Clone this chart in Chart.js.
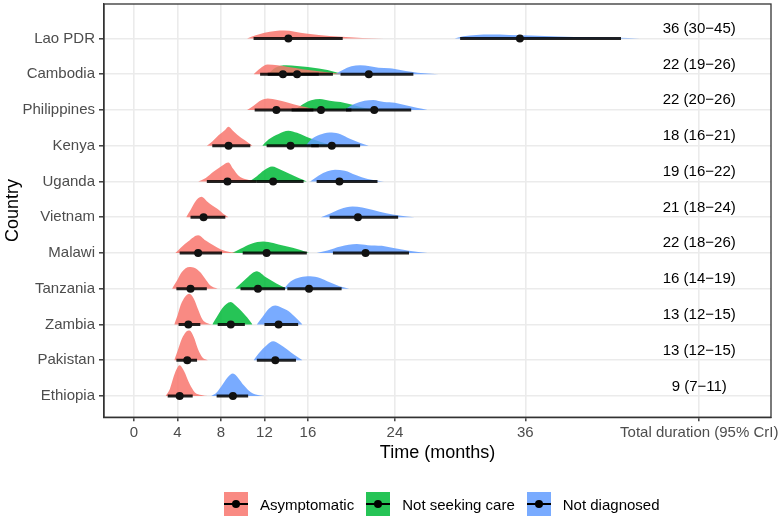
<!DOCTYPE html>
<html>
<head>
<meta charset="utf-8">
<script src="https://cdn.jsdelivr.net/npm/chart.js@4.4.1/dist/chart.umd.min.js"></script>
<style>
  html, body { margin: 0; padding: 0; background: #fff; }
  #wrap { position: relative; width: 778px; height: 517px; font-family: "Liberation Sans", Arial, sans-serif; }
  #legend { position: absolute; left: 224px; top: 492px; display: flex; align-items: center; }
  .item { display: flex; align-items: center; margin-right: 12px; }
  .key { position: relative; width: 24px; height: 24px; margin-right: 12px; }
  .key .bar { position: absolute; left: 0; right: 0; top: 11px; height: 2px; background: #000; }
  .key .dot { position: absolute; left: 8px; top: 8px; width: 8px; height: 8px; border-radius: 50%; background: #000; }
  .label { font-size: 15px; color: #000; white-space: nowrap; }
</style>
</head>
<body>
<div id="wrap">
  <canvas id="chart" width="778" height="517"></canvas>
  <div id="legend"></div>
</div>
<script>
const countries = ['Lao PDR', 'Cambodia', 'Philippines', 'Kenya', 'Uganda', 'Vietnam',
  'Malawi', 'Tanzania', 'Zambia', 'Pakistan', 'Ethiopia'];

const xTickValues = [0, 4, 8, 12, 16, 24, 36, 52];
const xTickLabels = ['0', '4', '8', '12', '16', '24', '36', 'Total duration (95% CrI)'];
const totalColumn = 52;

// medians and 95% CrI (months), null = stage not estimated
const asymMedian = [14.2, 13.7, 13.1, 8.7, 8.6, 6.4, 5.9, 5.2, 5.0, 4.9, 4.2];
const asymLow    = [11.0, 11.6, 11.1, 7.2, 6.7, 5.2, 4.2, 3.9, 4.1, 3.9, 3.1];
const asymHigh   = [19.2, 17.0, 16.5, 10.7, 11.3, 8.4, 8.1, 6.7, 6.1, 5.8, 5.4];

const careMedian = [null, 15.0, 17.2, 14.4, 12.8, null, 12.2, 11.4, 8.9, null, null];
const careLow    = [null, 12.3, 14.5, 12.2, 11.3, null, 10.0, 9.8, 7.7, null, null];
const careHigh   = [null, 18.3, 20.0, 17.0, 15.6, null, 15.9, 13.9, 10.2, null, null];

const diagMedian = [35.5, 21.6, 22.1, 18.2, 18.9, 20.6, 21.3, 16.1, 13.3, 13.0, 9.1];
const diagLow    = [30.0, 19.0, 19.5, 16.3, 16.8, 18.0, 18.3, 14.1, 12.0, 11.3, 7.6];
const diagHigh   = [44.8, 25.7, 25.5, 20.8, 22.4, 24.3, 25.3, 19.1, 15.1, 14.9, 10.5];

// total duration column
const totalMedian = [36, 22, 22, 18, 19, 21, 22, 16, 13, 13, 9];
const totalLow    = [30, 19, 20, 16, 16, 18, 18, 14, 12, 12, 7];
const totalHigh   = [45, 26, 26, 21, 22, 24, 26, 19, 15, 15, 11];

// density outlines: [month, height in row units]
const asymDensity = [
  [[10.4,0],[11.2,0.09],[12,0.16],[13,0.21],[13.8,0.22],[14.8,0.19],[15.8,0.14],[17,0.1],[18,0.07],[19.5,0.04],[21,0.015],[23,0]],
  [[11.0,0],[11.6,0.16],[12.3,0.27],[13.2,0.25],[14.2,0.2],[15.5,0.14],[17,0.08],[18.5,0.03],[19.5,0]],
  [[10.4,0],[11,0.12],[11.7,0.27],[12.3,0.32],[13.2,0.28],[14.2,0.2],[15.3,0.11],[16.2,0.05],[17,0]],
  [[6.7,0],[7.2,0.12],[7.8,0.3],[8.4,0.45],[8.7,0.53],[9.1,0.42],[9.5,0.31],[10.2,0.15],[10.9,0]],
  [[5.9,0],[6.6,0.1],[7.3,0.27],[8.1,0.44],[8.7,0.53],[9.1,0.36],[9.6,0.17],[10.3,0.06],[11.4,0]],
  [[4.8,0],[5.2,0.2],[5.6,0.42],[6.2,0.57],[6.7,0.45],[7.2,0.33],[7.7,0.23],[8.2,0.1],[8.7,0]],
  [[3.8,0],[4.3,0.15],[5,0.33],[5.9,0.5],[6.6,0.35],[7.3,0.22],[8,0.1],[8.8,0.03],[9.5,0]],
  [[3.5,0],[3.9,0.2],[4.4,0.47],[5.1,0.61],[5.6,0.58],[6.1,0.46],[6.5,0.3],[7,0.1],[7.7,0]],
  [[3.7,0],[4.0,0.25],[4.3,0.55],[4.7,0.78],[5.1,0.86],[5.5,0.72],[5.9,0.42],[6.3,0.14],[6.7,0.04],[7.2,0]],
  [[3.7,0],[4,0.25],[4.4,0.6],[4.8,0.8],[5.1,0.83],[5.5,0.65],[5.9,0.3],[6.3,0.08],[6.8,0]],
  [[2.9,0],[3.3,0.2],[3.6,0.5],[3.9,0.74],[4.2,0.86],[4.6,0.7],[5.1,0.35],[5.6,0.1],[6.2,0.03],[6.8,0]]
];

const careDensity = [
  null,
  [[12.3,0],[13,0.18],[14,0.25],[15,0.23],[16,0.2],[17,0.16],[17.8,0.12],[18.5,0.06],[19.2,0]],
  [[14.8,0],[15.5,0.15],[16.3,0.27],[17.1,0.31],[18,0.26],[19,0.22],[20,0.15],[21,0.07],[22,0]],
  [[11.8,0],[12.4,0.18],[13.3,0.33],[14.2,0.42],[15,0.36],[15.8,0.26],[16.6,0.17],[17.5,0.08],[18.3,0]],
  [[10.6,0],[11.3,0.15],[12,0.32],[12.7,0.42],[13.5,0.33],[14.4,0.2],[15.2,0.09],[15.9,0]],
  null,
  [[9,0],[9.8,0.12],[10.8,0.26],[11.9,0.32],[12.8,0.28],[13.8,0.2],[14.6,0.15],[15.4,0.08],[16.1,0]],
  [[9.3,0],[9.9,0.17],[10.4,0.31],[11.3,0.49],[12.1,0.33],[13.1,0.15],[14.1,0]],
  [[7.2,0],[7.6,0.2],[8.1,0.45],[8.9,0.63],[9.4,0.52],[9.9,0.37],[10.4,0.2],[10.9,0]],
  null,
  null
];

const diagDensity = [
  [[29.5,0],[30.3,0.06],[31.5,0.1],[32.8,0.11],[34.5,0.1],[36.5,0.08],[39,0.055],[42,0.035],[44.5,0.02],[46.5,0]],
  [[18.5,0],[19.2,0.12],[20,0.22],[20.8,0.25],[21.7,0.22],[22.5,0.18],[23.5,0.17],[24.5,0.12],[25.5,0.07],[26.7,0.025],[28,0]],
  [[19.3,0],[20.2,0.16],[21.2,0.26],[22,0.28],[23,0.22],[24,0.2],[25,0.13],[26,0.06],[27,0]],
  [[15.8,0],[16.4,0.2],[17.3,0.33],[18.2,0.37],[19,0.32],[19.8,0.2],[20.7,0.09],[21.6,0]],
  [[16.2,0],[17,0.17],[17.8,0.29],[18.5,0.33],[19.4,0.3],[20.4,0.18],[21.5,0.07],[23,0]],
  [[17.2,0],[18,0.1],[19,0.23],[20.1,0.3],[21,0.27],[22,0.2],[23.2,0.11],[24.4,0.05],[25.8,0]],
  [[16.8,0],[17.8,0.07],[19,0.18],[20.5,0.25],[21.5,0.22],[22.8,0.2],[24,0.13],[25.3,0.06],[27,0]],
  [[13.8,0],[14.4,0.2],[15.3,0.32],[16.2,0.35],[17.1,0.3],[18,0.18],[18.9,0.07],[19.8,0]],
  [[11.3,0],[11.8,0.2],[12.4,0.44],[13,0.53],[13.6,0.47],[14.2,0.38],[14.8,0.22],[15.5,0]],
  [[11,0],[11.5,0.2],[12.2,0.42],[12.8,0.53],[13.4,0.45],[14.1,0.3],[14.8,0.14],[15.5,0]],
  [[7.1,0],[7.6,0.1],[8.1,0.3],[8.6,0.52],[9.1,0.63],[9.6,0.5],[10.1,0.3],[10.6,0.14],[11.2,0.04],[12,0]]
];

/*********************************************/

// top row sits highest on the y axis
function rowOf(i) {
  return countries.length - i;
}

const stages = [
  { name: 'Asymptomatic', color: 'rgba(248, 118, 109, 0.85)', med: asymMedian, lo: asymLow, hi: asymHigh, dens: asymDensity, order: 2 },
  { name: 'Not seeking care', color: 'rgba(0, 186, 56, 0.85)', med: careMedian, lo: careLow, hi: careHigh, dens: careDensity, order: 4 },
  { name: 'Not diagnosed', color: 'rgba(97, 156, 255, 0.85)', med: diagMedian, lo: diagLow, hi: diagHigh, dens: diagDensity, order: 3 }
];

const datasets = [];
const medianPoints = [];

stages.forEach(stage => {
  countries.forEach((c, i) => {
    if (stage.med[i] === null) return;
    const row = rowOf(i);
    datasets.push({
      label: stage.name + ' ' + c,
      data: stage.dens[i].map(p => ({ x: p[0], y: row + p[1] })),
      fill: { value: row },
      backgroundColor: stage.color,
      borderColor: 'transparent',
      borderWidth: 0,
      pointRadius: 0,
      cubicInterpolationMode: 'monotone',
      order: stage.order
    });
    datasets.push({
      label: stage.name + ' CrI ' + c,
      data: [{ x: stage.lo[i], y: row }, { x: stage.hi[i], y: row }],
      borderColor: 'rgba(0, 0, 0, 0.85)',
      borderWidth: 3,
      pointRadius: 0,
      fill: false,
      order: 1
    });
    medianPoints.push({ x: stage.med[i], y: row });
  });
});

datasets.push({
  label: 'median',
  data: medianPoints,
  showLine: false,
  pointRadius: 4,
  pointHoverRadius: 4,
  pointBackgroundColor: '#111',
  pointBorderWidth: 0,
  order: 0
});

// total duration text column
const totalsPlugin = {
  id: 'totals',
  afterDatasetsDraw(chart) {
    const { ctx, scales } = chart;
    ctx.save();
    ctx.font = '15px "Liberation Sans", Arial, sans-serif';
    ctx.fillStyle = '#000';
    ctx.textAlign = 'center';
    ctx.textBaseline = 'middle';
    countries.forEach((c, i) => {
      const x = scales.x.getPixelForValue(totalColumn);
      const y = scales.y.getPixelForValue(rowOf(i) + 0.27);
      ctx.fillText(totalMedian[i] + ' (' + totalLow[i] + '\u2212' + totalHigh[i] + ')', x, y);
    });
    ctx.restore();
  }
};

// ggplot style panel border
const panelBorder = {
  id: 'panelBorder',
  afterDraw(chart) {
    const { ctx, chartArea: a } = chart;
    ctx.save();
    ctx.strokeStyle = '#333';
    ctx.lineWidth = 1.3;
    ctx.strokeRect(a.left, a.top, a.right - a.left, a.bottom - a.top);
    ctx.restore();
  }
};

Chart.defaults.font.family = '"Liberation Sans", Arial, sans-serif';

const chart = new Chart(document.getElementById('chart'), {
  type: 'line',
  data: { datasets },
  options: {
    responsive: false,
    animation: false,
    layout: { padding: { top: 1, right: 7, bottom: 53, left: 0 } },
    plugins: {
      legend: { display: false },
      tooltip: { enabled: false }
    },
    scales: {
      x: {
        type: 'linear',
        min: -2.76,
        max: 58.6,
        afterBuildTicks: s => { s.ticks = xTickValues.map(v => ({ value: v })); },
        afterFit: s => { s.height = 46.8; s.paddingLeft = 0; s.paddingRight = 0; },
        ticks: {
          autoSkip: false,
          maxRotation: 0,
          minRotation: 0,
          padding: 3,
          color: '#4d4d4d',
          font: { size: 15 },
          callback: (v, idx) => xTickLabels[idx]
        },
        grid: { color: '#ebebeb', lineWidth: 1.6, tickColor: '#333', tickWidth: 1.4, tickLength: 4 },
        border: { display: true, color: '#333', width: 1.3 },
        title: { display: true, text: 'Time (months)', color: '#000', font: { size: 18 }, padding: 0 }
      },
      y: {
        type: 'linear',
        min: 0.408,
        max: 11.964,
        afterBuildTicks: s => { s.ticks = countries.map((c, i) => ({ value: i + 1 })); },
        afterFit: s => { s.width = 104; s.paddingTop = 0; s.paddingBottom = 0; },
        ticks: {
          autoSkip: false,
          padding: 4,
          color: '#4d4d4d',
          font: { size: 15 },
          callback: v => countries[countries.length - v]
        },
        grid: { color: '#ebebeb', lineWidth: 1.6, tickColor: '#333', tickWidth: 1.4, tickLength: 5 },
        border: { display: true, color: '#333', width: 1.3 },
        title: { display: true, text: 'Country', color: '#000', font: { size: 18 }, padding: { top: 2, bottom: 0 } }
      }
    }
  },
  plugins: [totalsPlugin, panelBorder]
});

// legend below the panel
const legendEl = document.getElementById('legend');
stages.forEach(stage => {
  const item = document.createElement('div');
  item.className = 'item';
  item.innerHTML = '<div class="key" style="background:' + stage.color + '"><div class="bar"></div><div class="dot"></div></div>' +
    '<span class="label">' + stage.name + '</span>';
  legendEl.appendChild(item);
});
</script>
</body>
</html>
